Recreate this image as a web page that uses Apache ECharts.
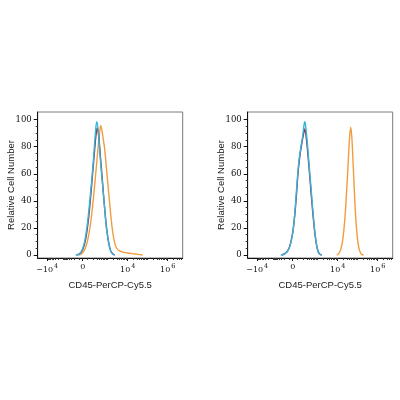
<!DOCTYPE html>
<html>
<head>
<meta charset="utf-8">
<script src="https://cdn.jsdelivr.net/npm/echarts@6.0.0/dist/echarts.min.js"></script>
<style>html,body{margin:0;padding:0;background:#fff}#c{width:400px;height:400px}</style>
</head>
<body>
<div id="c"></div>
<script>
// ---- data (x in display-scale units of the biexponential axis, y = relative cell number) ----
var xTickPos = [9.5, 45, 90, 130];
var xTickBase = ['\u221210', '0', '10', '10'];
var xTickExp = ['4', '', '4', '6'];
var yTicks = [0, 20, 40, 60, 80, 100];

var cyanL = [[38,0],[41,0.5],[44,3],[47,10],[50,25],[53,47],[55.5,68],[57.5,88],[59,98.5],[60.5,92],[62.5,72],[64.5,55],[66.5,38],[68.5,22],[70.5,11],[72.5,4],[74.5,1],[77,0]];
var maroonL = [[39,0],[42,1],[45,4],[48,12],[51,28],[54,52],[56.5,74],[58.5,90],[59.5,93.6],[61,88],[63,70],[65,52],[67,34],[69,19],[71,9],[73,3],[75,1],[77,0]];
var orangeL = [[41,0],[44,1],[47,4],[50,11],[53,24],[56,44],[58.5,64],[60.5,80],[62,91],[63,95.5],[64,93],[65.5,86],[67,78],[68.5,66],[70,54],[71.5,42],[73,30],[75,17],[77,9],[79,5],[82,3],[86,2],[90,1.5],[95,1],[100,0.5],[105,0]];

var cyanR = [[33,0],[36,0.5],[39,2],[42,6],[45,16],[47,30],[49,50],[51,68],[53,79],[55,88],[56.3,96],[57,98.5],[57.8,96],[59.5,84],[61.5,66],[63.5,48],[65.5,30],[67.5,15],[69.5,5],[71.5,1],[74,0]];
var maroonR = [[34,0],[37,1],[40,3],[43,9],[46,22],[48.5,42],[50.5,62],[52.5,75],[54.5,84],[56,90],[57,93],[58,90],[59.5,80],[61.5,63],[63.5,45],[65.5,28],[67.5,14],[69.5,5],[71.5,1],[74,0]];
var orangeR = [[89,0],[91,1],[93,4],[95,11],[97,25],[99,48],[100.5,68],[101.8,86],[103,94.4],[104.2,86],[105.5,66],[106.8,45],[108,28],[109.5,14],[111,6],[112.5,2],[114,0.5],[116,0]];

var xMin = 0, xMax = 145, yMin = -2.2, yMax = 105.6;

// minor tick positions on the biexponential axis (decorative)
var xMinor = [];
(function () {
  for (var k = 2; k <= 6; k++) {
    for (var m = 1; m <= 9; m++) {
      if (m === 1 && (k === 4 || k === 6)) continue;
      var p = 90 + 20 * (k - 4 + Math.log10(m));
      if (p > 45 && p < xMax) xMinor.push(p);
      var n = 45 - 0.789 * (p - 45);
      if (p <= 90 && n > xMin && Math.abs(n - 9.5) > 0.5) xMinor.push(n);
    }
  }
})();
var yMinor = [];
for (var v = 5; v < 105; v += 5) { if (v % 20 !== 0) yMinor.push(v); }

var COLORS = { cyan: '#36b4d8', maroon: '#8e2c50', orange: '#f09c40' };
var serif = 'DejaVu Serif';
var sans = 'Liberation Sans';

function labelFmt(val) {
  for (var i = 0; i < xTickPos.length; i++) {
    if (Math.abs(val - xTickPos[i]) < 0.01) {
      return xTickExp[i] ? '{b|' + xTickBase[i] + '}{s|' + xTickExp[i] + '}' : '{b|' + xTickBase[i] + '}';
    }
  }
  return '';
}

var grids = [], xAxes = [], yAxes = [], series = [];
var lefts = [37.7, 247.7];
var panels = [[orangeL, maroonL, cyanL], [orangeR, maroonR, cyanR]];
lefts.forEach(function (l, g) {
  grids.push({ left: l, top: 112, width: 145, height: 146, show: true, borderColor: '#7a7a7a', borderWidth: 1, containLabel: false });
  xAxes.push({
    gridIndex: g, type: 'value', position: 'bottom', min: xMin, max: xMax,
    name: 'CD45-PerCP-Cy5.5', nameLocation: 'middle', nameGap: 22, nameMoveOverlap: false,
    nameTextStyle: { fontFamily: sans, fontSize: 9.5, color: '#222' },
    axisLine: { show: true, onZero: false, lineStyle: { color: '#111', width: 1 } },
    axisTick: { show: true, inside: false, length: 3, customValues: xTickPos, lineStyle: { color: '#111' } },
    axisLabel: { show: true, margin: 5, customValues: xTickPos, formatter: labelFmt,
      rich: { b: { fontFamily: serif, fontSize: 8, color: '#111' },
              s: { fontFamily: serif, fontSize: 6.5, color: '#111', padding: [0, 0, 7, 1] } } },
    splitLine: { show: false }
  });
  xAxes.push({
    gridIndex: g, type: 'value', position: 'bottom', min: xMin, max: xMax,
    axisLine: { show: false, onZero: false },
    axisTick: { show: true, length: 2, customValues: xMinor, lineStyle: { color: '#333' } },
    axisLabel: { show: false }, splitLine: { show: false }
  });
  yAxes.push({
    gridIndex: g, type: 'value', position: 'left', min: yMin, max: yMax,
    name: 'Relative Cell Number', nameLocation: 'middle', nameGap: 21, nameMoveOverlap: false,
    nameTextStyle: { fontFamily: sans, fontSize: 9.5, color: '#222' },
    axisLine: { show: true, onZero: false, lineStyle: { color: '#111', width: 1 } },
    axisTick: { show: true, length: 4, customValues: yTicks, lineStyle: { color: '#111' } },
    axisLabel: { show: true, margin: 6, customValues: yTicks, fontFamily: serif, fontSize: 8.5, color: '#111' },
    splitLine: { show: false }
  });
  yAxes.push({
    gridIndex: g, type: 'value', position: 'left', min: yMin, max: yMax,
    axisLine: { show: false, onZero: false },
    axisTick: { show: true, length: 2, customValues: yMinor, lineStyle: { color: '#333' } },
    axisLabel: { show: false }, splitLine: { show: false }
  });
  var cols = [COLORS.orange, COLORS.maroon, COLORS.cyan];
  panels[g].forEach(function (d, i) {
    series.push({
      type: 'line', xAxisIndex: g * 2, yAxisIndex: g * 2, data: d,
      showSymbol: false, smooth: 0.35, animation: false,
      lineStyle: { color: cols[i], width: 1.4 }, z: 2 + i
    });
  });
});

var chart = echarts.init(document.getElementById('c'), null, { renderer: 'canvas' });
chart.setOption({
  backgroundColor: '#fff',
  animation: false,
  grid: grids, xAxis: xAxes, yAxis: yAxes, series: series
});
</script>
</body>
</html>
